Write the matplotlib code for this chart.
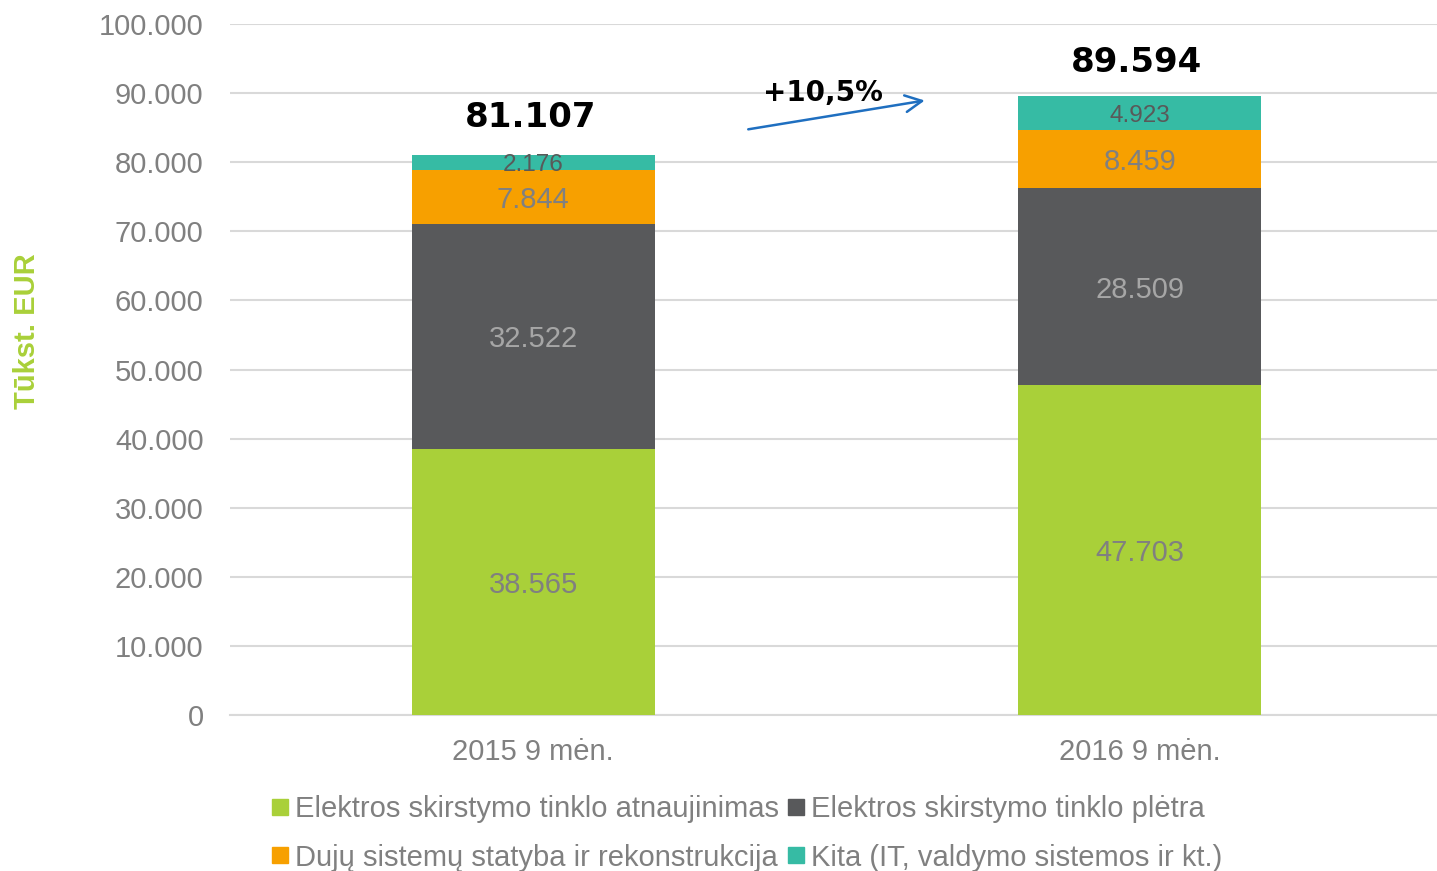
import numpy as np
import matplotlib
matplotlib.use("Agg")
import matplotlib.pyplot as plt
from matplotlib.lines import Line2D
from matplotlib.ticker import FuncFormatter

plt.rcParams["font.family"] = ["Liberation Sans", "DejaVu Sans"]

# data (tūkst. EUR)
periods = ["2015 9 mėn.", "2016 9 mėn."]
series_names = [
    "Elektros skirstymo tinklo atnaujinimas",
    "Elektros skirstymo tinklo plėtra",
    "Dujų sistemų statyba ir rekonstrukcija",
    "Kita (IT, valdymo sistemos ir kt.)",
]
atnaujinimas = [38565, 47703]
pletra = [32522, 28509]
duju = [7844, 8459]
kita = [2176, 4923]
totals = [81107, 89594]
growth_label = "+10,5%"

colors = ["#a9d039", "#58595b", "#f7a000", "#36bba4"]
label_colors = ["#808080", "#a6a6a6", "#808080", "#595959"]
label_sizes = [21, 21, 21, 17.5]

fig = plt.figure(figsize=(14.37, 8.71), dpi=100)
ax = fig.add_axes([0.160, 0.179, 0.840, 0.7934])

x = np.arange(len(periods))
width = 0.4
bottom = np.zeros(len(periods))
for vals, c, lc, ls in zip([atnaujinimas, pletra, duju, kita], colors, label_colors, label_sizes):
    v = np.array(vals, dtype=float)
    ax.bar(x, v, width, bottom=bottom, color=c, zorder=3)
    for xi, b, h in zip(x, bottom, v):
        ax.text(xi, b + h / 2 - 400, f"{int(h):,}".replace(",", "."), ha="center", va="center",
                color=lc, fontsize=ls, zorder=4)
    bottom += v

total_offsets = [5300, 4900]
for xi, t, off in zip(x, totals, total_offsets):
    ax.text(xi - 0.005, t + off, f"{t:,}".replace(",", "."), ha="center", va="center",
            fontsize=24.5, fontweight="bold", family="DejaVu Sans", color="black")

ax.annotate("", xy=(0.65, 89000), xytext=(0.35, 84700),
            arrowprops=dict(arrowstyle="->", color="#1f6fc0", lw=1.8, mutation_scale=30))
ax.text(0.478, 90000, growth_label, ha="center", va="center", fontsize=20,
        fontweight="bold", family="DejaVu Sans", color="black")

ax.set_xlim(-0.5, 1.49)
ax.set_ylim(0, 100000)
ax.set_yticks(np.arange(0, 100001, 10000))
ax.yaxis.set_major_formatter(FuncFormatter(lambda v, p: f"{int(v):,}".replace(",", ".")))
ax.set_xticks(x)
ax.set_xticklabels(periods)
ax.tick_params(axis="both", length=0, labelsize=21, labelcolor="#808080")
ax.tick_params(axis="y", pad=19)
ax.tick_params(axis="x", pad=16.5)
ax.grid(axis="y", color="#d9d9d9", lw=1.5, zorder=0)
for s in ["top", "right", "left"]:
    ax.spines[s].set_visible(False)
ax.spines["bottom"].set_color("#d9d9d9")
ax.spines["bottom"].set_linewidth(1.5)

fig.text(0.019, 0.62, "Tūkst. EUR", rotation=90, ha="center", va="center",
         fontsize=21, fontweight="bold", color="#a9d039")

handles = [Line2D([], [], marker="s", linestyle="", color=c, markersize=11) for c in colors]
order = [0, 2, 1, 3]
leg = fig.legend([handles[i] for i in order], [series_names[i] for i in order],
                 loc="upper center", bbox_to_anchor=(0.520, 0.087), ncol=2, frameon=False,
                 fontsize=21, handlelength=0.5, handletextpad=0.25, columnspacing=0.35,
                 labelspacing=0.7, borderaxespad=0, borderpad=0)
for t in leg.get_texts():
    t.set_color("#808080")

fig.savefig("out.png", dpi=100)
